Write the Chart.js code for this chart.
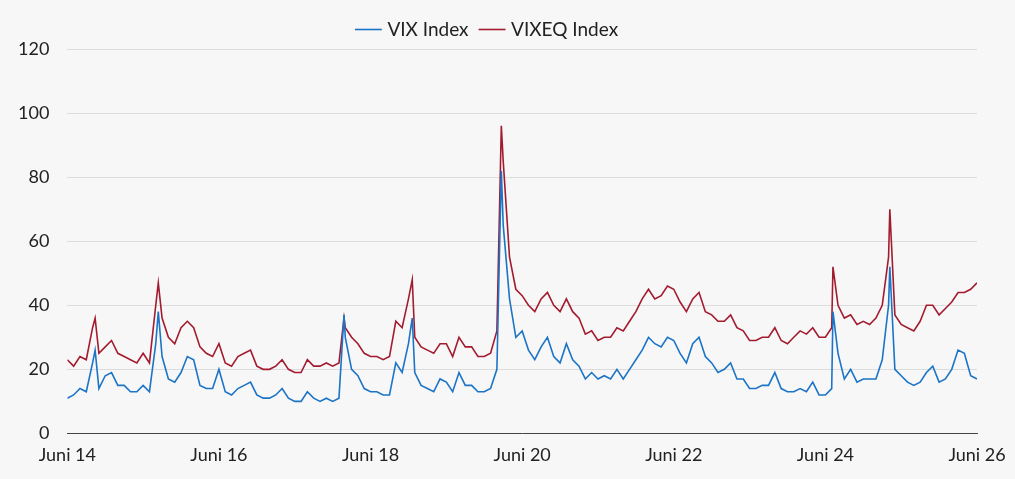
<!DOCTYPE html>
<html><head><meta charset="utf-8">
<script src="https://cdn.jsdelivr.net/npm/chart.js@4"></script>
<style>html,body{margin:0;background:#f7f7f7}#w{width:1015px;height:479px}</style>
</head><body><div id="w"><canvas id="c"></canvas></div>
<script>
// monthly values starting June 2014 (index 0)
const vix = [11,12,14,13,22,14,18, 19,15,15,13,13,15,13,28,24,17,16,19, 24,23,15,14,14,20,13,12,14,15,16,12,
 11,11,12,14,11,10,10,13,11,10,11,10, 11,30,20,18,14,13,13,12,12,22,19,28, 19,15,14,13,17,16,13,19,15,15,13,13,
 14,20,65,42,30,32,26,23,27,30,24,22, 28,23,21,17,19,17,18,17,20,17,20,23, 26,30,28,27,30,29,25,22,28,30,24,22,
 19,20,22,17,17,14,14,15,15,19,14,13, 13,14,13,16,12,12,14,25,17,20,16,17, 17,17,23,40,20,18,16,15,16,19,21,16,
 17,20,26,25,18,17];
const vixeq = [23,21,24,23,33,25,27, 29,25,24,23,22,25,22,40,36,30,28,33, 35,33,27,25,24,28,22,21,24,25,26,21,
 20,20,21,23,20,19,19,23,21,21,22,21, 22,33,30,28,25,24,24,23,24,35,33,42, 30,27,26,25,28,28,24,30,27,27,24,24,
 25,32,85,55,45,43,40,38,42,44,40,38, 42,38,36,31,32,29,30,30,33,32,35,38, 42,45,42,43,46,45,41,38,42,44,38,37,
 35,35,37,33,32,29,29,30,30,33,29,28, 30,32,31,33,30,30,33,40,36,37,34,35, 34,36,40,55,37,34,33,32,35,40,40,37,
 39,41,44,44,45,47];
// short-lived spikes (month offset, value)
const spikeMonths = [4.4, 14.4, 43.8, 54.6, 68.7, 121.2, 130.2];
const vixSpikes   = [26, 38, 37, 36, 82, 38, 52];
const vixeqSpikes = [36, 47, 36, 48, 96, 52, 70];
const tickLabels = ['Juni 14','Juni 16','Juni 18','Juni 20','Juni 22','Juni 24','Juni 26'];

function build(vals, spikes){
  const pts = vals.map((v,i)=>({x:i,y:v}));
  spikeMonths.forEach((m,i)=>pts.push({x:m,y:spikes[i]}));
  return pts.sort((a,b)=>a.x-b.x);
}
new Chart(document.getElementById('c'),{
  type:'line',
  data:{datasets:[
    {label:'VIX Index',data:build(vix,vixSpikes),borderColor:'#1b74c6',backgroundColor:'#1b74c6',borderWidth:1.6,pointRadius:0,tension:0},
    {label:'VIXEQ Index',data:build(vixeq,vixeqSpikes),borderColor:'#a31b2f',backgroundColor:'#a31b2f',borderWidth:1.6,pointRadius:0,tension:0}
  ]},
  options:{responsive:true,maintainAspectRatio:false,animation:false,
    layout:{padding:{left:0,right:38,top:6,bottom:10}},
    plugins:{legend:{position:'top',labels:{usePointStyle:true,pointStyle:'line',boxWidth:30,padding:14,font:{family:'Lato',size:19},color:'#222'}},tooltip:{enabled:false}},
    scales:{
      x:{type:'linear',min:0,max:144,grid:{display:false,drawTicks:true},border:{color:'#444'},
        ticks:{stepSize:24,autoSkip:false,color:'#222',font:{family:'Lato',size:18},callback:v=>tickLabels[v/24]}},
      y:{min:0,max:120,grid:{color:'#dcdcdc',drawTicks:false},border:{display:false},
        ticks:{stepSize:20,color:'#222',padding:18,font:{family:'Lato',size:18}}}
    }}
});
</script></body></html>
